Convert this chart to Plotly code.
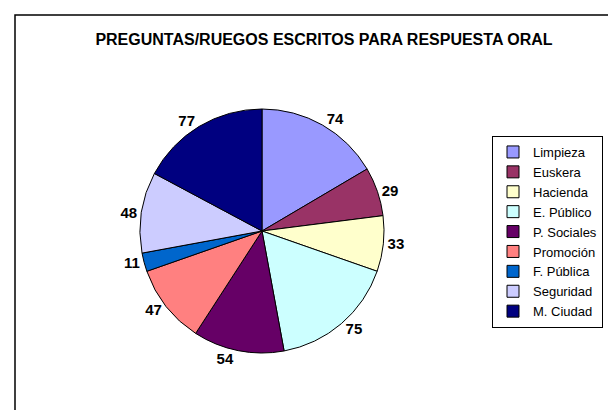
import plotly.graph_objects as go

categories = ["Limpieza", "Euskera", "Hacienda", "E. Público", "P. Sociales",
              "Promoción", "F. Pública", "Seguridad", "M. Ciudad"]
values = [74, 29, 33, 75, 54, 47, 11, 48, 77]
colors = ["#9999FF", "#993366", "#FFFFCC", "#CCFFFF", "#660066",
          "#FF8080", "#0066CC", "#CCCCFF", "#000080"]

fig = go.Figure(go.Pie(
    labels=categories,
    values=values,
    sort=False,
    direction="clockwise",
    rotation=0,
    marker=dict(colors=colors, line=dict(color="black", width=1)),
    texttemplate="<b>%{value}</b>",
    textposition="outside",
    outsidetextfont=dict(family="Liberation Sans, Arial", size=15, color="black"),
    domain=dict(x=[132 / 616, 376 / 616], y=[1 - 346 / 410, 1 - 100 / 410]),
    hoverinfo="label+value+percent",
))

fig.update_layout(
    width=616, height=410,
    margin=dict(l=0, r=0, t=0, b=0),
    paper_bgcolor="white",
    title=dict(text="<b>PREGUNTAS/RUEGOS ESCRITOS PARA RESPUESTA ORAL</b>",
               x=316 / 616, xanchor="center", y=1 - 31 / 410, yanchor="middle",
               font=dict(family="Liberation Sans, Arial", size=16, color="black")),
    legend=dict(x=484 / 616, y=1 - 128 / 410, xanchor="left", yanchor="top",
                bordercolor="black", borderwidth=1, bgcolor="white",
                font=dict(family="Liberation Sans, Arial", size=13, color="black"),
                itemwidth=30),
    shapes=[dict(type="rect", xref="paper", yref="paper",
                 x0=7 / 616, y0=-0.05, x1=1.05, y1=1 - 7 / 410,
                 line=dict(color="black", width=1.5))],
)

fig.write_html("out.html")
